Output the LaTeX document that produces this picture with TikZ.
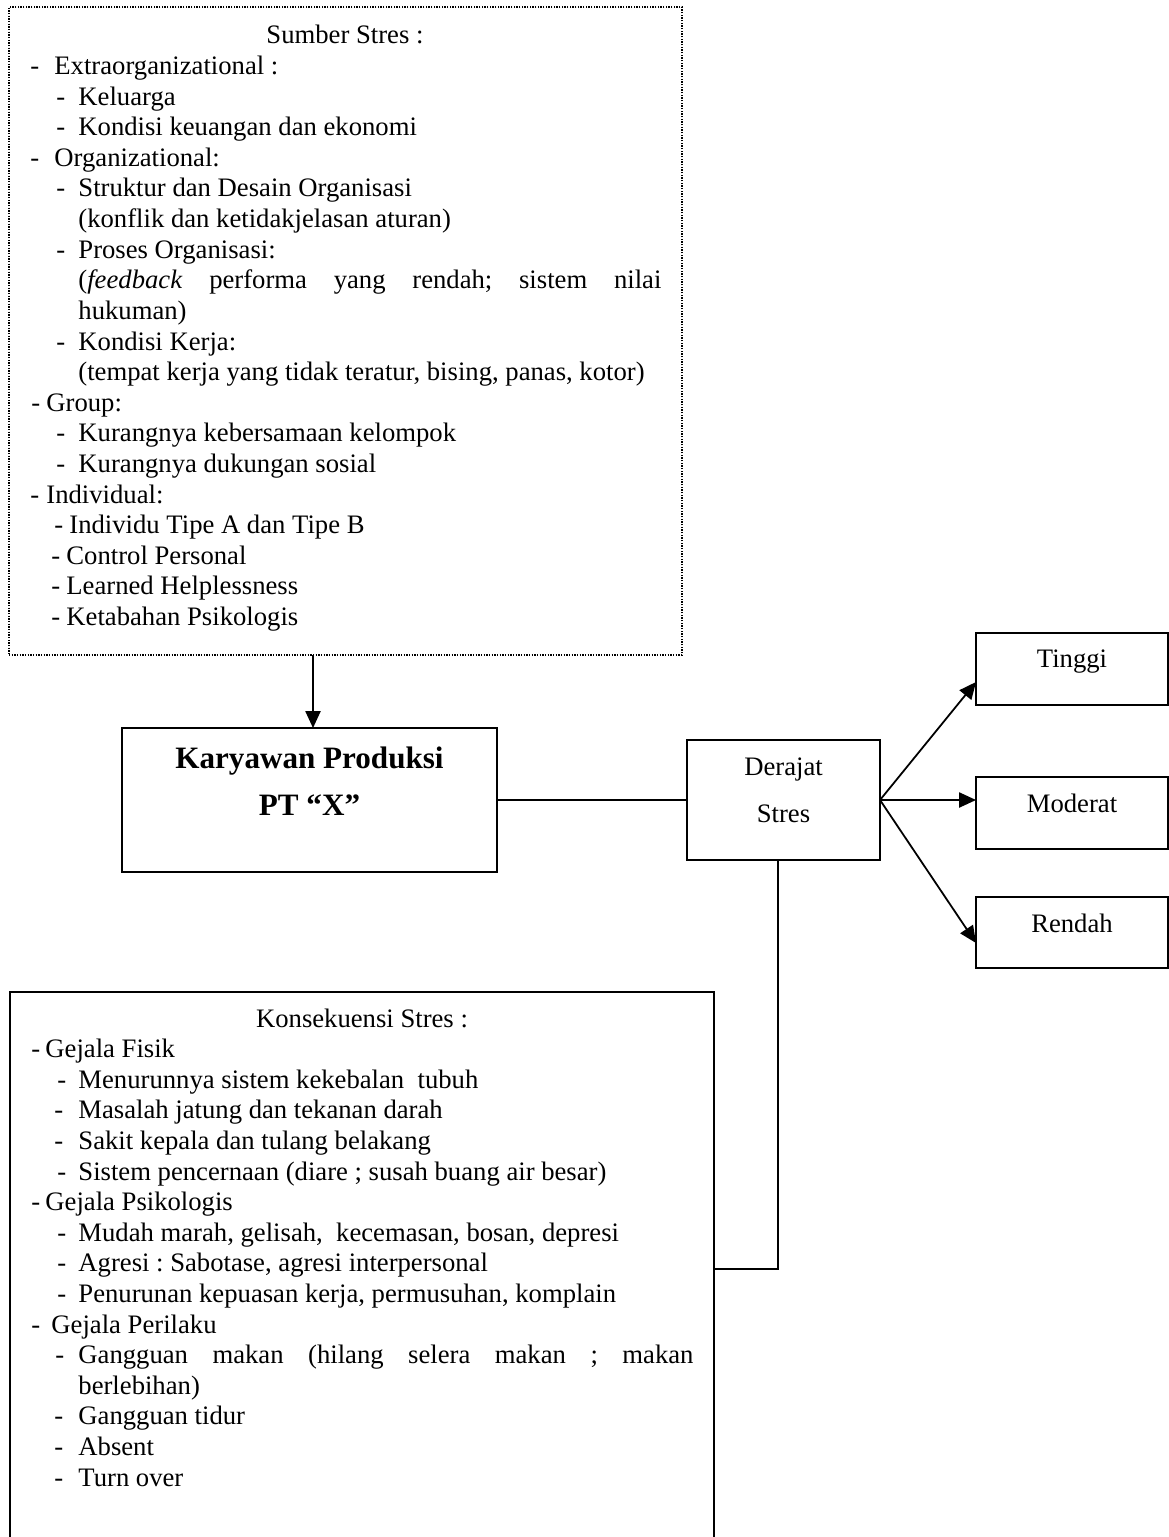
\documentclass[tikz,border=0pt]{standalone}
\usepackage{fontspec}
\setmainfont{Liberation Serif}
\usetikzlibrary{arrows.meta}
\frenchspacing
\newcommand\srcline[5]{%
  \node[txt] (#1d) at (#2,#4) {-};
  \node[txt] (#1) at (#3,#4) {#5};}
\begin{document}
\begin{tikzpicture}[x=0.45pt,y=-0.45pt,
  box/.style={draw, line width=0.8pt, inner sep=0pt, outer sep=0pt},
  dotbox/.style={draw, line width=0.6pt, dash pattern=on 0.6pt off 0.6pt, inner sep=0pt, outer sep=0pt},
  txt/.style={anchor=base west, inner sep=0pt, font=\fontsize{12}{13.7}\selectfont},
  ctr/.style={anchor=base, inner sep=0pt, font=\fontsize{12}{13.7}\selectfont},
  big/.style={anchor=base, inner sep=0pt, font=\fontsize{14}{16}\selectfont\bfseries},
  arr/.style={line width=0.8pt, -{Triangle[length=7.6pt,width=6.8pt]}},
  con/.style={line width=0.8pt}]
\useasboundingbox (0,0) rectangle (1169,1537);

% ---------- boxes ----------
\node[dotbox, minimum width=673*0.45pt, minimum height=648*0.45pt] (sumber) at (345.5,331) {};
\node[box, minimum width=375*0.45pt, minimum height=144*0.45pt] (karyawan) at (309.5,800) {};
\node[box, minimum width=193*0.45pt, minimum height=120*0.45pt] (derajat) at (783.5,800) {};
\node[box, minimum width=192*0.45pt, minimum height=72*0.45pt] (tinggi) at (1072,669) {};
\node[box, minimum width=192*0.45pt, minimum height=72*0.45pt] (moderat) at (1072,813) {};
\node[box, minimum width=192*0.45pt, minimum height=71*0.45pt] (rendah) at (1072,932.5) {};
\coordinate (konsBL) at (10,1537);
\coordinate (konsTL) at (10,992);
\coordinate (konsTR) at (714,992);
\coordinate (konsBR) at (714,1537);
\coordinate (konsR) at (714,1269);
\draw[con] (konsBL) -- (konsTL) -- (konsTR) -- (konsBR);

% ---------- box labels ----------
\node[big] (karyawan1) at (309.5,768) {Karyawan Produksi};
\node[big] (karyawan2) at (309.5,815) {PT “X”};
\node[ctr] (derajat1) at (783.5,775) {Derajat};
\node[ctr] (derajat2) at (783.5,822) {Stres};
\node[ctr] (tinggiT) at (1072,667) {Tinggi};
\node[ctr] (moderatT) at (1072,812) {Moderat};
\node[ctr] (rendahT) at (1072,932) {Rendah};

% ---------- connectors ----------
\draw[arr] ([xshift=3.5*0.45pt]karyawan.north |- sumber.south) -- ([xshift=3.5*0.45pt]karyawan.north);
\draw[con] (karyawan.east) -- (derajat.west);
\draw[arr] (derajat.east) -- ([yshift=-13*0.45pt]tinggi.west);
\draw[arr] (derajat.east) -- ([yshift=13*0.45pt]moderat.west);
\draw[arr] (derajat.east) -- ([yshift=-10.5*0.45pt]rendah.west);
\draw[con] ([xshift=-5.5*0.45pt]derajat.south) |- (konsR);

% ---------- Sumber Stres text ----------
\node[ctr] (sTitle) at (345,44) {Sumber Stres :};
\srcline{s1}{30}{54}{74.6}{Extraorganizational :}
\srcline{s2}{56}{78}{105.2}{Keluarga}
\srcline{s3}{56}{78}{135.8}{Kondisi keuangan dan ekonomi}
\srcline{s4}{30}{54}{166.4}{Organizational:}
\srcline{s5}{56}{78}{197}{Struktur dan Desain Organisasi}
\node[txt] (s6) at (78,227.6) {(konflik dan ketidakjelasan aturan)};
\srcline{s7}{56}{78}{258.2}{Proses Organisasi:}
\node[txt] (s8) at (78,288.8) {\makebox[262.35pt][s]{(\textit{feedback} performa yang rendah; sistem nilai}};
\node[txt] (s9) at (78,319.4) {hukuman)};
\srcline{s10}{56}{78}{350}{Kondisi Kerja:}
\node[txt] (s11) at (78,380.6) {(tempat kerja yang tidak teratur, bising, panas, kotor)};
\srcline{s12}{31}{46}{411.2}{Group:}
\srcline{s13}{56}{78}{441.8}{Kurangnya kebersamaan kelompok}
\srcline{s14}{56}{78}{472.4}{Kurangnya dukungan sosial}
\srcline{s15}{30}{46}{503}{Individual:}
\srcline{s16}{54}{69}{533.6}{Individu Tipe A dan Tipe B}
\srcline{s17}{51}{66}{564.2}{Control Personal}
\srcline{s18}{51}{66}{594.8}{Learned Helplessness}
\srcline{s19}{51}{66}{625.4}{Ketabahan Psikologis}

% ---------- Konsekuensi Stres text ----------
\node[ctr] (kTitle) at (362,1027) {Konsekuensi Stres :};
\srcline{k1}{31}{45}{1057.6}{Gejala Fisik}
\srcline{k2}{57}{78}{1088.2}{Menurunnya sistem kekebalan\ \ tubuh}
\srcline{k3}{54}{78}{1118.8}{Masalah jatung dan tekanan darah}
\srcline{k4}{54}{78}{1149.4}{Sakit kepala dan tulang belakang}
\srcline{k5}{57}{78}{1180}{Sistem pencernaan (diare ; susah buang air besar)}
\srcline{k6}{31}{45}{1210.6}{Gejala Psikologis}
\srcline{k7}{57}{78}{1241.2}{Mudah marah, gelisah,\ \ kecemasan, bosan, depresi}
\srcline{k8}{57}{78}{1271.8}{Agresi : Sabotase, agresi interpersonal}
\srcline{k9}{57}{78}{1302.4}{Penurunan kepuasan kerja, permusuhan, komplain}
\srcline{k10}{31}{51}{1333}{Gejala Perilaku}
\node[txt] (k11d) at (55,1363.6) {-};
\node[txt] (k11) at (78,1363.6) {\makebox[276.75pt][s]{Gangguan makan (hilang selera makan ; makan}};
\node[txt] (k12) at (78,1394.2) {berlebihan)};
\srcline{k13}{54}{78}{1424.8}{Gangguan tidur}
\srcline{k14}{54}{78}{1455.4}{Absent}
\srcline{k15}{54}{78}{1486}{Turn over}
\end{tikzpicture}
\end{document}
